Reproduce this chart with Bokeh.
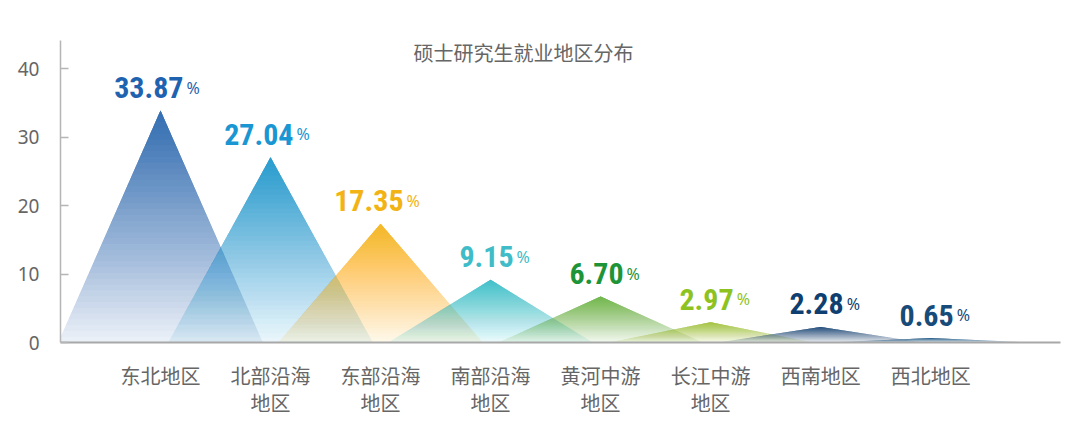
from bokeh.plotting import figure
from bokeh.models import Range1d, FixedTicker, LinearAxis
from bokeh.core.properties import value
from bokeh.embed import file_html
from bokeh.resources import INLINE

# ---- data ----
regions = ["东北地区", "北部沿海地区", "东部沿海地区", "南部沿海地区",
           "黄河中游地区", "长江中游地区", "西南地区", "西北地区"]
shares = [33.87, 27.04, 17.35, 9.15, 6.70, 2.97, 2.28, 0.65]
share_labels = ["33.87", "27.04", "17.35", "9.15", "6.70", "2.97", "2.28", "0.65"]
y_ticks = [0, 10, 20, 30, 40]
title_text = "硕士研究生就业地区分布"

# ---- styles ----
fill_colors = ["#2A6AB2", "#1D9AD0", "#F6B81A", "#3CC0CB",
               "#6CB844", "#A4C639", "#1B4A7A", "#28608E"]
label_colors = ["#1F63B0", "#1A96D2", "#F2B314", "#40BCC8",
                "#1E9438", "#8EC31F", "#0F3F70", "#174B7A"]
half_w = 0.93
CJK = "Noto Sans CJK SC"
NUMF = "'Roboto Condensed', 'Liberation Sans Narrow', 'DejaVu Sans Condensed', 'Roboto', sans-serif"

p = figure(width=1080, height=434, output_backend="svg", toolbar_location=None,
           x_range=Range1d(-0.909, 8.18), y_range=Range1d(0, 44.09),
           min_border_left=60, min_border_right=20, min_border_top=40,
           min_border_bottom=92, x_axis_location=None, y_axis_location=None)
p.outline_line_color = None
p.grid.visible = False
p.background_fill_color = "white"
p.border_fill_color = "white"

# gradient triangles via nested layers (darker toward the apex)
N = 40
T0, T1 = 0.10, 0.95
for i, (v, c) in enumerate(zip(shares, fill_colors)):
    xs, ys, alphas = [], [], []
    prev_rem = 1.0
    for k in range(N):
        t = k / N
        T = T0 + (T1 - T0) * t
        rem = 1 - T
        a = 1 - rem / prev_rem
        prev_rem = rem
        y0 = v * t
        hw = half_w * (1 - t)
        xs.append([i - hw, i + hw, i])
        ys.append([y0, y0, v])
        alphas.append(a)
    p.patches(xs=xs, ys=ys, fill_color=c, fill_alpha=alphas, line_color=None)

# value labels
for i, (v, s, lc) in enumerate(zip(shares, share_labels, label_colors)):
    p.text(x=[i], y=[v], text=[s], text_color=lc, text_font=value(NUMF),
           text_font_style="bold", text_font_size="30px", text_align="right",
           text_baseline="alphabetic", x_offset=23, y_offset=-23)
    p.text(x=[i], y=[v], text=["%"], text_color=lc, text_font=value("Noto Sans"),
           text_font_size="16px", text_align="left",
           text_baseline="alphabetic", x_offset=26, y_offset=-23)

# title
p.text(x=[3.30], y=[42.37], text=[title_text], text_color="#666666",
       text_font=value(CJK), text_font_size="20px", text_align="center",
       text_baseline="middle")

# axes
def wrap(s):
    return s if len(s) <= 4 else s[:4] + "\n" + s[4:]

xa = LinearAxis(ticker=FixedTicker(ticks=list(range(len(regions)))),
                major_label_overrides={i: wrap(r) for i, r in enumerate(regions)})
xa.axis_line_color = "#A8A8A8"
xa.axis_line_width = 2
xa.major_tick_line_color = None
xa.minor_tick_line_color = None
xa.major_label_text_font = CJK
xa.major_label_text_font_size = "20px"
xa.major_label_text_color = "#666666"
xa.major_label_text_line_height = 0.95
xa.major_label_standoff = 12
p.add_layout(xa, "below")

ya = LinearAxis(ticker=FixedTicker(ticks=y_ticks))
ya.axis_line_color = "#B5B5B5"
ya.axis_line_width = 1.5
ya.major_tick_line_color = "#B5B5B5"
ya.major_tick_line_width = 1.5
ya.major_tick_in = 8
ya.major_tick_out = 0
ya.minor_tick_line_color = None
ya.major_label_text_font = "Noto Sans"
ya.major_label_text_font_size = "19px"
ya.major_label_text_color = "#666666"
ya.major_label_standoff = 21
p.add_layout(ya, "left")

open("out.html", "w").write(file_html(p, INLINE))
